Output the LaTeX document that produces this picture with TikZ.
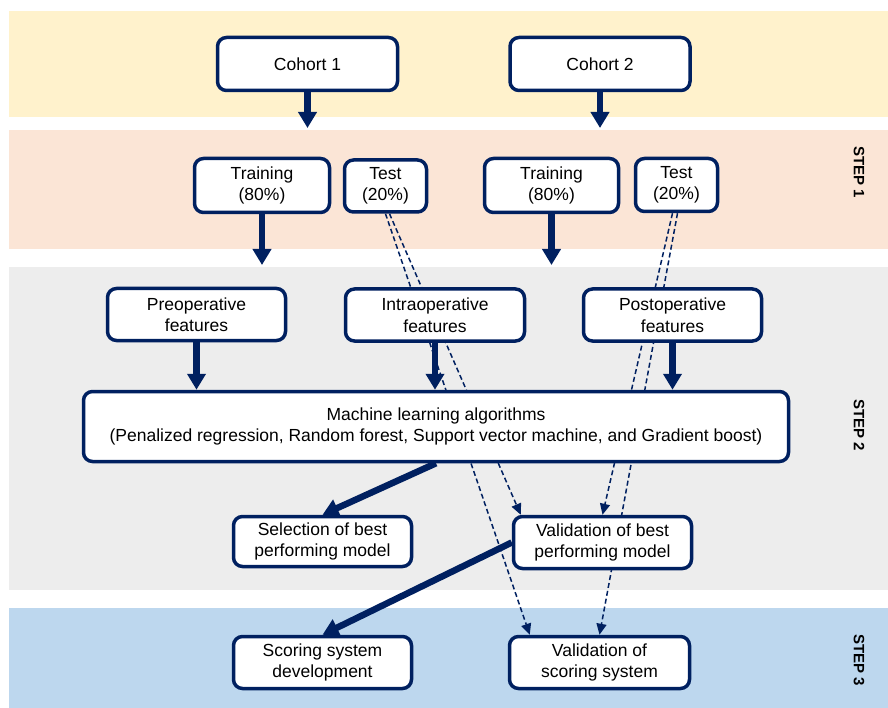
\documentclass[tikz,border=0pt]{standalone}
\usepackage{fontspec}
\setmainfont{Liberation Sans}
\usetikzlibrary{arrows.meta}
\definecolor{navy}{HTML}{002060}
\definecolor{cohortbg}{HTML}{FFF2CC}
\definecolor{stepone}{HTML}{FBE5D6}
\definecolor{steptwo}{HTML}{EDEDED}
\definecolor{stepthree}{HTML}{BDD7EE}
\pgfdeclarelayer{bands}\pgfdeclarelayer{links}\pgfsetlayers{bands,links,main}
\begin{document}
\begin{tikzpicture}[x=1pt,y=-1pt,
 box/.style 2 args={draw=navy,line width=3.5pt,rounded corners=9pt,fill=white,align=center,inner sep=0pt,
  font=\fontsize{17.5}{21.5}\selectfont,minimum width=#1pt,minimum height=#2pt},
 bigarrow/.style={navy,line width=6.5pt,-{Triangle[width=18pt,length=16pt]}},
 testarrow/.style={navy,line width=1.5pt,dash pattern=on 5pt off 3pt,-{Triangle[width=10pt,length=11pt]}},
 steplabel/.style={rotate=-90,font=\fontsize{15}{17}\selectfont\bfseries}]
\useasboundingbox(0,0)rectangle(888,708);
\begin{pgfonlayer}{bands}
\fill[cohortbg](9,11)rectangle(888,117);\fill[stepone](9,130)rectangle(888,249);
\fill[steptwo](9,267)rectangle(888,590);\fill[stepthree](9,608)rectangle(888,708);
\end{pgfonlayer}
\node[steplabel](s1)at(859,172){STEP 1};\node[steplabel](s2)at(859,425){STEP 2};\node[steplabel](s3)at(859,660){STEP 3};
\node[box={180}{53}](c1)at(307.5,64){Cohort 1};\node[box={180}{53}](c2)at(600,64){Cohort 2};
\node[box={135}{54}](tr1)at(262,185.5){Training\\(80\%)};\node[box={82}{52}](te1)at(385.5,186){Test\\(20\%)};
\node[box={134}{54}](tr2)at(551.5,185.5){Training\\(80\%)};\node[box={82}{53}](te2)at(676.5,185){Test\\(20\%)};
\node[box={178}{52}](pre)at(196.5,314.5){Preoperative\\features};
\node[box={179}{52}](intra)at(435,315){Intraoperative\\features};
\node[box={178}{52}](post)at(672.5,315){Postoperative\\features};
\node[box={705}{70}](ml)at(436,426.5){Machine learning algorithms\\(Penalized regression, Random forest, Support vector machine, and Gradient boost)};
\node[box={178}{50}](sel)at(322.5,541.5){Selection of best\\performing model};
\node[box={178}{52}](vb)at(602.5,542.5){Validation of best\\performing model};
\node[box={178}{52}](sd)at(322.5,662.5){Scoring system\\development};
\node[box={180}{52}](vs)at(599.5,662.5){Validation of\\scoring system};
\coordinate(c1end)at(308,128);\coordinate(c2end)at(598,128);\coordinate(tr1end)at(262,265);\coordinate(tr2end)at(552,265);
\draw[bigarrow](c1.south)--(c1.south|-c1end);\draw[bigarrow](c2.south)--(c2.south|-c2end);
\draw[bigarrow](tr1.south)--(tr1.south|-tr1end);\draw[bigarrow](tr2.south)--(tr2.south|-tr2end);
\draw[bigarrow](pre.south)--(pre.south|-ml.north);\draw[bigarrow](intra.south)--(intra.south|-ml.north);\draw[bigarrow](post.south)--(post.south|-ml.north);
\draw[bigarrow](ml.south)--(sel.north);\draw[bigarrow](vb.west)--(sd.north);
\begin{pgfonlayer}{links}
\draw[testarrow](te1.south)--([xshift=22pt]vs.north west);\draw[testarrow]([xshift=4pt]te1.south)--([xshift=9pt]vb.north west);
\draw[testarrow]([xshift=-4pt]te2.south)--(vb.north);\draw[testarrow]([xshift=1pt]te2.south)--(vs.north);
\end{pgfonlayer}
\end{tikzpicture}
\end{document}
